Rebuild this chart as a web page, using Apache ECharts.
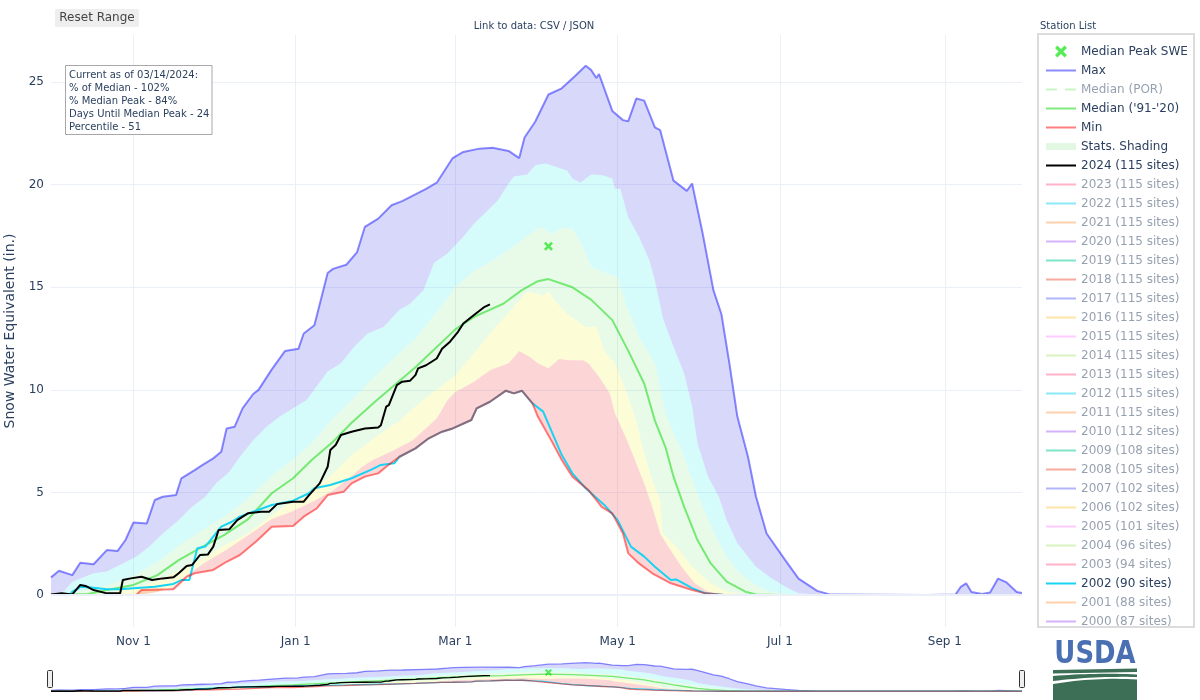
<!DOCTYPE html>
<html><head><meta charset="utf-8">
<script src="https://cdn.jsdelivr.net/npm/echarts@6.0.0/dist/echarts.min.js"></script>
<style>html,body{margin:0;padding:0;background:#fff}#c{width:1200px;height:700px}</style>
</head><body><div id="c"></div><script>
// ---------- DATA (water year 2024: Oct 1 2023 .. Sep 30 2024), values in inches ----------
const maxSWE = [['10-01',0.86],['10-04',1.18],['10-09',0.97],['10-12',1.57],['10-17',1.5],['10-22',2.19],['10-26',2.14],['10-29',2.68],['11-01',3.54],['11-06',3.49],['11-09',4.63],['11-12',4.79],['11-17',4.87],['11-19',5.69],['11-24',6.09],['11-27',6.34],['12-01',6.66],['12-04',6.98],['12-06',8.12],['12-09',8.2],['12-12',9.1],['12-16',9.8],['12-18',10.0],['12-23',11.0],['12-28',11.9],['01-02',12.0],['01-04',12.75],['01-08',13.15],['01-13',15.7],['01-15',15.9],['01-20',16.1],['01-24',16.7],['01-27',17.95],['02-01',18.35],['02-06',19.0],['02-10',19.2],['02-19',19.8],['02-23',20.1],['02-27',20.9],['02-29',21.3],['03-04',21.6],['03-10',21.76],['03-15',21.8],['03-21',21.65],['03-25',21.3],['03-27',22.3],['03-31',23.07],['04-05',24.4],['04-10',24.7],['04-15',25.3],['04-19',25.8],['04-21',25.6],['04-23',25.2],['04-24',25.4],['04-29',23.6],['05-03',23.15],['05-05',23.1],['05-08',24.2],['05-11',24.1],['05-15',22.8],['05-17',22.66],['05-22',20.2],['05-27',19.7],['05-29',20.06],['06-02',17.6],['06-06',14.86],['06-09',13.7],['06-12',11.3],['06-15',8.7],['06-19',6.74],['06-22',4.8],['06-26',3.0],['07-03',1.7],['07-08',0.8],['07-15',0.2],['07-20',0.02],['08-25',0],['09-05',0.02],['09-07',0.4],['09-09',0.57],['09-11',0.15],['09-15',0.05],['09-18',0.12],['09-21',0.8],['09-24',0.63],['09-28',0.15],['09-30',0.1]];
const p90SWE = [['10-01',0.05],['10-06',0.2],['10-09',0.65],['10-17',1.06],['10-22',1.14],['10-28',1.54],['11-02',1.87],['11-07',2.36],['11-12',3.0],['11-18',3.65],['11-23',4.3],['11-28',4.79],['12-02',5.44],['12-07',6.0],['12-11',6.74],['12-16',7.55],['12-21',8.2],['12-26',8.7],['12-31',9.1],['01-05',9.5],['01-09',10.2],['01-13',10.9],['01-18',11.3],['01-23',12.1],['01-28',12.75],['02-03',13.07],['02-09',13.9],['02-13',14.2],['02-18',14.86],['02-22',16.2],['02-27',16.65],['03-04',17.46],['03-08',18.1],['03-12',18.6],['03-17',19.25],['03-21',20.06],['03-23',20.4],['03-28',20.5],['03-31',20.95],['04-04',21.04],['04-08',20.87],['04-12',20.7],['04-14',20.3],['04-17',20.1],['04-21',20.5],['04-25',20.47],['04-29',20.3],['04-30',19.8],['05-02',19.8],['05-05',18.4],['05-09',17.46],['05-13',16.3],['05-15',15.35],['05-18',13.5],['05-22',12.1],['05-26',10.8],['05-29',9.2],['05-31',7.4],['06-04',5.77],['06-08',4.8],['06-11',3.65],['06-15',2.52],['06-19',1.87],['06-22',1.38],['06-27',0.89],['07-03',0.4],['07-08',0.08],['07-15',0.02],['09-30',0]];
const p70SWE = [['10-01',0.02],['10-10',0.15],['10-22',0.45],['11-01',0.95],['11-10',1.6],['11-18',2.4],['11-26',3.1],['12-05',3.8],['12-14',4.7],['12-23',5.8],['12-31',6.6],['01-07',7.4],['01-15',8.6],['01-22',9.5],['01-31',10.7],['02-09',11.8],['02-15',12.5],['02-23',13.8],['03-01',15.0],['03-08',15.8],['03-15',16.3],['03-22',16.9],['03-28',17.5],['04-02',17.95],['04-06',17.6],['04-10',17.9],['04-14',17.86],['04-18',16.97],['04-21',16.0],['04-27',15.67],['05-01',15.5],['05-04',14.2],['05-09',12.6],['05-15',11.3],['05-19',8.85],['05-22',7.9],['05-26',6.74],['05-30',5.28],['06-03',3.98],['06-07',2.84],['06-11',1.87],['06-16',1.06],['06-21',0.57],['06-27',0.16],['07-05',0.02],['09-30',0]];
const medianSWE = [['10-01',0],['10-15',0.05],['10-22',0.24],['11-01',0.49],['11-10',0.97],['11-18',1.7],['11-26',2.28],['12-05',2.92],['12-14',3.69],['12-23',4.96],['12-31',5.69],['01-07',6.58],['01-15',7.47],['01-22',8.4],['01-31',9.45],['02-15',11.1],['03-01',12.95],['03-08',13.56],['03-19',14.2],['03-26',14.86],['04-01',15.3],['04-05',15.4],['04-14',15.0],['04-21',14.4],['04-29',13.4],['05-05',11.9],['05-11',10.3],['05-15',8.5],['05-19',7.2],['05-22',5.77],['05-26',4.3],['05-31',2.68],['06-05',1.54],['06-11',0.65],['06-18',0.16],['06-22',0.03],['07-01',0],['09-30',0]];
const p30SWE = [['10-01',0],['10-22',0.1],['11-01',0.3],['11-10',0.7],['11-18',1.2],['11-26',1.7],['12-05',2.4],['12-14',3.0],['12-23',3.9],['12-31',4.6],['01-07',5.1],['01-15',5.9],['01-22',6.8],['01-31',7.7],['02-09',8.5],['02-15',9.2],['02-23',10.0],['03-01',10.7],['03-08',11.8],['03-15',12.9],['03-22',13.9],['03-28',14.8],['04-03',14.6],['04-05',14.8],['04-07',14.4],['04-12',13.7],['04-19',13.07],['04-23',13.07],['04-26',11.9],['04-30',11.3],['05-04',10.0],['05-08',8.5],['05-11',6.9],['05-14',5.6],['05-17',4.63],['05-18',3.0],['05-23',2.36],['05-29',1.38],['06-05',0.57],['06-11',0.16],['06-20',0],['09-30',0]];
const p10SWE = [['10-01',0],['11-04',0.02],['11-10',0.15],['11-16',0.4],['11-21',0.95],['11-28',1.6],['12-06',2.2],['12-14',2.9],['12-23',3.7],['12-31',4.1],['01-08',4.6],['01-15',5.1],['01-22',5.8],['01-26',6.25],['01-30',6.58],['02-07',7.07],['02-14',7.55],['02-23',8.6],['02-27',9.5],['03-01',9.9],['03-08',10.4],['03-14',10.96],['03-21',11.3],['03-25',11.9],['03-29',11.6],['04-01',11.3],['04-05',11.05],['04-09',11.5],['04-13',11.45],['04-18',11.45],['04-20',11.3],['04-24',10.64],['04-28',9.83],['04-30',8.85],['05-04',7.7],['05-08',6.42],['05-11',5.44],['05-14',4.3],['05-17',3.0],['05-20',2.36],['05-25',1.38],['05-30',0.57],['06-04',0.16],['06-12',0],['09-30',0]];
const minSWE = [['10-01',0],['11-02',0],['11-04',0.24],['11-16',0.28],['11-21',0.89],['11-24',1.06],['12-01',1.22],['12-06',1.62],['12-11',1.95],['12-17',2.6],['12-23',3.33],['12-31',3.36],['01-04',3.82],['01-09',4.23],['01-13',4.87],['01-19',5.03],['01-22',5.44],['01-27',5.77],['02-01',5.93],['02-04',6.25],['02-09',6.74],['02-15',7.15],['02-20',7.64],['02-25',7.96],['02-29',8.12],['03-07',8.53],['03-09',9.1],['03-14',9.42],['03-20',9.96],['03-23',9.83],['03-26',9.96],['03-30',9.34],['04-01',8.7],['04-06',7.55],['04-10',6.58],['04-14',5.77],['04-20',5.12],['04-25',4.3],['04-29',3.98],['05-03',3.0],['05-05',2.03],['05-09',1.54],['05-14',1.06],['05-21',0.57],['05-29',0.24],['06-03',0.08],['06-10',0],['09-30',0]];
const swe2002 = [['10-01',0],['10-08',0],['10-09',0.16],['10-11',0.3],['10-12',0.4],['10-16',0.37],['10-22',0.28],['10-27',0.28],['11-01',0.33],['11-09',0.4],['11-16',0.54],['11-19',0.73],['11-22',0.73],['11-25',2.28],['11-28',2.36],['12-04',3.33],['12-08',3.57],['12-11',3.82],['12-16',4.06],['12-23',4.39],['12-31',4.6],['01-06',4.96],['01-08',5.2],['01-14',5.36],['01-22',5.69],['01-29',6.09],['02-02',6.34],['02-07',6.42],['02-09',6.74],['02-15',7.15],['02-20',7.64],['02-25',7.96],['02-29',8.12],['03-07',8.53],['03-09',9.1],['03-14',9.42],['03-20',9.96],['03-23',9.83],['03-26',9.96],['03-30',9.34],['04-03',8.94],['04-10',6.82],['04-14',5.93],['04-19',5.2],['04-26',4.39],['05-01',3.65],['05-06',2.36],['05-11',1.87],['05-15',1.38],['05-21',0.73],['05-23',0.76],['05-29',0.33],['06-03',0.08],['06-10',0],['09-30',0]];
const swe2024 = [['10-01',0.02],['10-05',0.08],['10-09',0.03],['10-12',0.49],['10-14',0.44],['10-17',0.24],['10-22',0.08],['10-27',0.08],['10-28',0.73],['10-31',0.81],['11-04',0.89],['11-08',0.73],['11-12',0.81],['11-16',0.86],['11-18',1.06],['11-21',1.41],['11-23',1.46],['11-26',1.95],['11-29',1.98],['12-01',2.36],['12-03',3.17],['12-07',3.2],['12-10',3.65],['12-14',3.98],['12-19',4.06],['12-22',4.06],['12-25',4.43],['12-31',4.55],['01-04',4.55],['01-06',4.87],['01-10',5.44],['01-13',6.25],['01-14',7.07],['01-16',7.31],['01-18',7.8],['01-22',7.96],['01-27',8.12],['02-01',8.17],['02-02',8.28],['02-04',9.18],['02-05',9.26],['02-08',10.23],['02-10',10.4],['02-13',10.45],['02-15',10.72],['02-16',11.05],['02-19',11.2],['02-23',11.53],['02-25',12.0],['02-28',12.35],['03-02',12.83],['03-04',13.24],['03-08',13.65],['03-12',14.05],['03-14',14.17]];
const medianPeak = [['04-05',17.0]];
const otherYears = [['2023 (115 sites)','#FF6692'],['2022 (115 sites)','#19d3f3'],['2021 (115 sites)','#FFA15A'],['2020 (115 sites)','#ab63fa'],['2019 (115 sites)','#00cc96'],['2018 (115 sites)','#EF553B'],['2017 (115 sites)','#636efa'],['2016 (115 sites)','#FECB52'],['2015 (115 sites)','#FF97FF'],['2014 (115 sites)','#B6E880'],['2013 (115 sites)','#FF6692'],['2012 (115 sites)','#19d3f3'],['2011 (115 sites)','#FFA15A'],['2010 (112 sites)','#ab63fa'],['2009 (108 sites)','#00cc96'],['2008 (105 sites)','#EF553B'],['2007 (102 sites)','#636efa'],['2006 (102 sites)','#FECB52'],['2005 (101 sites)','#FF97FF'],['2004 (96 sites)','#B6E880'],['2003 (94 sites)','#FF6692']];
const olderYears = [['2001 (88 sites)','#FFA15A'],['2000 (87 sites)','#ab63fa']];
const annotationLines = ['Current as of 03/14/2024:','% of Median - 102%','% Median Peak - 84%','Days Until Median Peak - 24','Percentile - 51'];
const labelMonths = [11, 1, 3, 5, 7, 9];
const monthNames = ['Jan','Feb','Mar','Apr','May','Jun','Jul','Aug','Sep','Oct','Nov','Dec'];

// ---------- helpers ----------
const FONT = "'DejaVu Sans', Verdana, sans-serif";
const TXT = '#2a3f5f';
const TXT_OFF = 'rgba(42,63,95,0.5)';
const START = Date.UTC(2023, 9, 1);
function dayIndex(md){ const [m,d] = md.split('-').map(Number); const y = m >= 10 ? 2023 : 2024; return Math.round((Date.UTC(y, m-1, d) - START) / 86400000); }
const categories = [];
for (let i = 0; i < 366; i++) categories.push(new Date(START + i * 86400000).toISOString().slice(0, 10));
function isLabelDay(i, v){ return +v.slice(8,10) === 1 && labelMonths.includes(+v.slice(5,7)); }
function fmtDay(v){ return monthNames[+v.slice(5,7) - 1] + ' ' + (+v.slice(8,10)); }
const toXY = arr => arr.map(([md, v]) => [dayIndex(md), v]);
function fade(hex, a){ const n = parseInt(hex.slice(1), 16); return `rgba(${n>>16},${(n>>8)&255},${n&255},${a})`; }

const bandDefs = [
  { upper: maxSWE, lower: p90SWE, color: 'rgba(60,60,235,0.2)' },
  { upper: p90SWE, lower: p70SWE, color: 'rgba(0,230,230,0.16)' },
  { upper: p70SWE, lower: p30SWE, color: 'rgba(0,215,0,0.09)' },
  { upper: p30SWE, lower: p10SWE, color: 'rgba(235,235,0,0.16)' },
  { upper: p10SWE, lower: minSWE, color: 'rgba(235,0,0,0.16)' }
];
function bandRender(params, api){
  const b = bandDefs[params.dataIndex];
  const up = toXY(b.upper).map(p => api.coord(p));
  const lo = toXY(b.lower).map(p => api.coord(p)).reverse();
  return { type: 'polygon', silent: true, shape: { points: up.concat(lo) }, style: { fill: b.color } };
}
const X_PATH = 'path://M2,0L5,3L8,0L10,2L7,5L10,8L8,10L5,7L2,10L0,8L3,5L0,2Z';
const LINE_ICON = 'path://M0,0H30V2H0Z';
const DASH_ICON = 'path://M0,0H11V2H0ZM19,0H30V2H19Z';

function buildSeries(g, mini){
  const lw = mini ? 1.3 : 2;
  const line = (name, data, color, width) => ({
    type: 'line', name, data: toXY(data), xAxisIndex: g, yAxisIndex: g,
    symbol: 'none', showSymbol: false, silent: true, animation: false,
    lineStyle: { color, width }, itemStyle: { color }
  });
  const s = [];
  const band = {
    type: 'custom', name: 'Stats. Shading', xAxisIndex: g, yAxisIndex: g, renderItem: bandRender,
    data: bandDefs.map(() => [0, 0]), itemStyle: { color: '#e3f8e3' }, silent: true, animation: false
  };
  if (!mini) band.markLine = { silent: true, symbol: 'none', label: { show: false }, lineStyle: { color: '#ebf0f8', width: 2, type: 'solid' }, data: [{ yAxis: 0 }] };
  s.push(band);
  s.push(line('Max', maxSWE, 'rgba(0,0,255,0.45)', lw));
  if (!mini) s.push({ type: 'line', name: 'Median (POR)', data: [], xAxisIndex: 0, yAxisIndex: 0, symbol: 'none', lineStyle: { color: 'rgba(0,210,0,0.22)', width: 2, type: [6, 6] }, itemStyle: { color: 'rgba(0,210,0,0.22)' } });
  s.push(line("Median ('91-'20)", medianSWE, 'rgba(0,215,0,0.5)', lw));
  s.push(line('2002 (90 sites)', swe2002, '#19d3f3', lw));
  s.push(line('Min', minSWE, 'rgba(255,0,0,0.5)', lw));
  if (!mini) {
    otherYears.concat(olderYears).forEach(([n, c]) => s.push({ type: 'line', name: n, data: [], xAxisIndex: 0, yAxisIndex: 0, symbol: 'none', lineStyle: { color: fade(c, 0.5), width: 2 }, itemStyle: { color: fade(c, 0.5) } }));
  }
  s.push(line('2024 (115 sites)', swe2024, '#000000', lw));
  s.push({ type: 'scatter', name: 'Median Peak SWE', data: toXY(medianPeak), xAxisIndex: g, yAxisIndex: g,
    symbol: X_PATH, symbolSize: mini ? 7 : 9, itemStyle: { color: '#2ee62e' }, silent: true, animation: false });
  return s;
}

const legendData = [
  { name: 'Median Peak SWE', icon: X_PATH },
  { name: 'Max', icon: LINE_ICON },
  { name: 'Median (POR)', icon: DASH_ICON, textStyle: { color: TXT_OFF } },
  { name: "Median ('91-'20)", icon: LINE_ICON },
  { name: 'Min', icon: LINE_ICON },
  { name: 'Stats. Shading', icon: 'path://M0,0H30V7H0Z', itemStyle: { color: '#e3f8e3' } },
  { name: '2024 (115 sites)', icon: LINE_ICON }
].concat(otherYears.map(([n]) => ({ name: n, icon: LINE_ICON, textStyle: { color: TXT_OFF } })))
 .concat([{ name: '2002 (90 sites)', icon: LINE_ICON }])
 .concat(olderYears.map(([n]) => ({ name: n, icon: LINE_ICON, textStyle: { color: TXT_OFF } })));

// logo curve helper (decoration only)
function quad(x0, y0, cx, cy, x1, y1, n){ const pts = []; for (let i = 0; i <= n; i++){ const t = i / n; pts.push([(1-t)*(1-t)*x0 + 2*(1-t)*t*cx + t*t*x1, (1-t)*(1-t)*y0 + 2*(1-t)*t*cy + t*t*y1]); } return pts; }
const swooshTop = quad(1053, 676, 1095, 672.5, 1137, 674.5, 16);
const swooshBot = quad(1137, 677, 1095, 676, 1053, 681, 16);
const bodyTop = quad(1053, 684, 1095, 677, 1137, 679.5, 16);

const chart = echarts.init(document.getElementById('c'), null, { renderer: 'canvas' });
chart.setOption({
  animation: false,
  backgroundColor: '#ffffff',
  textStyle: { fontFamily: FONT },
  grid: [
    { left: 51, right: 178, top: 35, bottom: 73, containLabel: false, outerBoundsMode: 'none' },
    { left: 51, right: 178, top: 661, bottom: 7, containLabel: false, outerBoundsMode: 'none' }
  ],
  xAxis: [
    { type: 'category', gridIndex: 0, data: categories, boundaryGap: false,
      axisLine: { show: false }, axisTick: { show: false },
      axisLabel: { interval: isLabelDay, formatter: fmtDay, color: TXT, fontSize: 12, fontFamily: FONT, margin: 9 },
      splitLine: { show: true, interval: isLabelDay, lineStyle: { color: '#ebf0f8', width: 1 } } },
    { type: 'category', gridIndex: 1, data: categories, boundaryGap: false, show: false }
  ],
  yAxis: [
    { type: 'value', gridIndex: 0, min: -1.56, max: 27.3, splitNumber: 5,
      axisLine: { show: false }, axisTick: { show: false },
      axisLabel: { color: TXT, fontSize: 12, fontFamily: FONT, margin: 7, showMinLabel: false, showMaxLabel: false },
      splitLine: { show: true, showMinLine: false, showMaxLine: false, lineStyle: { color: '#ebf0f8', width: 1 } },
      name: 'Snow Water Equivalent (in.)', nameLocation: 'middle', nameGap: 33,
      nameTextStyle: { color: TXT, fontSize: 14, fontFamily: FONT } },
    { type: 'value', gridIndex: 1, min: -1.56, max: 27.3, show: false, splitLine: { show: false } }
  ],
  legend: {
    orient: 'vertical', left: 1046, top: 45.5, itemWidth: 30, itemHeight: 12, itemGap: 7, padding: 0,
    selectedMode: false, textStyle: { color: TXT, fontSize: 12, fontFamily: FONT },
    data: legendData
  },
  series: buildSeries(0, false).concat(buildSeries(1, true)),
  graphic: [
    { type: 'rect', z: 100, shape: { x: 55, y: 9, width: 84, height: 18, r: 2 }, style: { fill: '#eeeeee' } },
    { type: 'text', z: 101, x: 97, y: 18, style: { text: 'Reset Range', fontSize: 12, fontFamily: FONT, fill: '#444', align: 'center', verticalAlign: 'middle' } },
    { type: 'text', z: 101, x: 534, y: 26, style: { text: 'Link to data: CSV / JSON', fontSize: 10, fontFamily: FONT, fill: TXT, align: 'center', verticalAlign: 'middle' } },
    { type: 'text', z: 101, x: 1040, y: 26, style: { text: 'Station List', fontSize: 10, fontFamily: FONT, fill: TXT, align: 'left', verticalAlign: 'middle' } },
    { type: 'rect', z: 100, shape: { x: 65.5, y: 65.5, width: 146.5, height: 69 }, style: { fill: '#ffffff', stroke: '#a8a8a8', lineWidth: 1 } },
    { type: 'text', z: 101, x: 69, y: 68.5, style: { text: annotationLines.join('\n'), fontSize: 10, lineHeight: 13, fontFamily: FONT, fill: TXT, align: 'left', verticalAlign: 'top' } },
    { type: 'rect', z: 100, shape: { x: 1038, y: 34, width: 156, height: 593 }, style: { fill: 'none', stroke: '#dcdcdc', lineWidth: 2 } },
    { type: 'rect', z: 100, shape: { x: 47.5, y: 670.5, width: 5, height: 17, r: 1 }, style: { fill: '#eeeeee', stroke: '#333', lineWidth: 1 } },
    { type: 'rect', z: 100, shape: { x: 1019.5, y: 670.5, width: 5, height: 17, r: 1 }, style: { fill: '#eeeeee', stroke: '#333', lineWidth: 1 } },
    { type: 'text', z: 101, x: 1095, y: 654.5, scaleX: 0.9, style: { text: 'USDA', fontSize: 32, fontWeight: 'bold', fontFamily: "'Liberation Sans Narrow', 'DejaVu Sans Condensed', sans-serif", fill: '#4a6fb3', align: 'center', verticalAlign: 'middle' } },
    { type: 'polygon', z: 101, shape: { points: [[1053,670],[1137,668.5],[1137,672],[1053,673.5]] }, style: { fill: '#3d6f57' } },
    { type: 'polygon', z: 101, shape: { points: swooshTop.concat(swooshBot) }, style: { fill: '#3d6f57' } },
    { type: 'polygon', z: 101, shape: { points: bodyTop.concat([[1137,700],[1053,700]]) }, style: { fill: '#3d6f57' } }
  ]
});
</script></body></html>
